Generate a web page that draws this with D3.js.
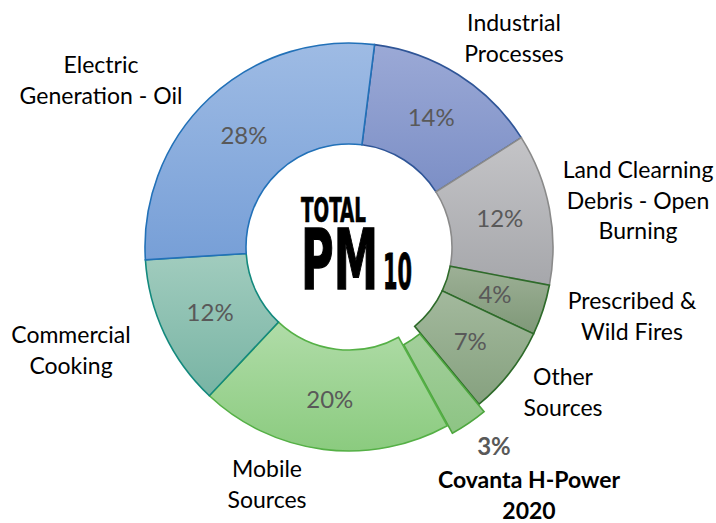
<!DOCTYPE html>
<html>
<head>
<meta charset="utf-8">
<script src="https://cdn.jsdelivr.net/npm/d3@7"></script>
<style>
  body { margin: 0; background: #fff; }
  text { font-family: Lato, "Open Sans", sans-serif; }
</style>
</head>
<body>
<svg id="chart" width="716" height="523"></svg>
<script>
// Data, clockwise from the top
const categories = ["Industrial Processes", "Land Clearning Debris - Open Burning", "Prescribed & Wild Fires",
    "Other Sources", "Covanta H-Power 2020", "Mobile Sources", "Commercial Cooking", "Electric Generation - Oil"];
const shares = [14, 12, 4, 7, 3, 20, 12, 28];
const labelLines = [
    ["Industrial", "Processes"],
    ["Land Clearning", "Debris - Open", "Burning"],
    ["Prescribed &", "Wild Fires"],
    ["Other", "Sources"],
    ["Covanta H-Power", "2020"],
    ["Mobile", "Sources"],
    ["Commercial", "Cooking"],
    ["Electric", "Generation - Oil"]
];
const highlighted = "Covanta H-Power 2020";

// Styles
const topColors = ["#9ba9d6", "#c4c4c7", "#9db096", "#a3b99d", "#a3cf9b", "#b0dca8", "#a1ccbe", "#9ebbe4"];
const bottomColors = ["#7c8fc6", "#a6a7ab", "#7f9878", "#86a17f", "#8dc484", "#8bcb7f", "#78b4a4", "#779fd7"];
const strokeColors = ["#2f5597", "#8a8a8a", "#2e6b2a", "#2e6b2a", "#4ea73f", "#55b046", "#13897d", "#2271b8"];

// Label anchors (first-line baseline)
const labelPos = [[514, 31], [638, 178], [632, 309], [563, 385], [529, 488], [267, 477], [71, 343], [101, 73]];

const dims = { width: 716, height: 523, cx: 349, cy: 247, inner: 103, outer: 204, explode: 9, lineH: 30.5 };
const startDeg = 7.2;

const svg = d3.select("#chart");
const defs = svg.append("defs");

shares.forEach((d, i) => {
    const g = defs.append("linearGradient")
        .attr("id", `grad${i}`)
        .attr("x1", 0).attr("y1", 0).attr("x2", 0).attr("y2", 1);
    g.append("stop").attr("offset", "0%").attr("stop-color", topColors[i]);
    g.append("stop").attr("offset", "100%").attr("stop-color", bottomColors[i]);
});

const start = startDeg * Math.PI / 180;
const pie = d3.pie().sort(null).value(d => d).startAngle(start).endAngle(start + 2 * Math.PI);
const arcs = pie(shares);

const arc = d3.arc().innerRadius(dims.inner).outerRadius(dims.outer);

const plot = svg.append("g").attr("transform", `translate(${dims.cx},${dims.cy})`);

// pull the highlighted slice out along its mid angle
function offset(d, i) {
    if (categories[i] !== highlighted) return [0, 0];
    const a = (d.startAngle + d.endAngle) / 2;
    return [Math.sin(a) * dims.explode, -Math.cos(a) * dims.explode];
}

plot.selectAll("path.slice")
    .data(arcs)
    .enter()
    .append("path")
    .attr("class", "slice")
    .attr("d", arc)
    .attr("transform", (d, i) => `translate(${offset(d, i)})`)
    .attr("fill", (d, i) => `url(#grad${i})`)
    .attr("stroke", (d, i) => strokeColors[i])
    .attr("stroke-width", 1.6)
    .attr("stroke-linejoin", "miter");

// Percent labels
plot.selectAll("text.pct")
    .data(arcs.filter((d, i) => categories[i] !== highlighted))
    .enter()
    .append("text")
    .attr("class", "pct")
    .attr("x", d => arc.centroid(d)[0])
    .attr("y", d => arc.centroid(d)[1])
    .attr("dy", "0.36em")
    .attr("text-anchor", "middle")
    .attr("fill", "#595959")
    .style("font-size", "24px")
    .text(d => d.data + "%");

// Category labels
labelLines.forEach((lines, i) => {
    const bold = categories[i] === highlighted;
    const t = svg.append("text")
        .attr("text-anchor", "middle")
        .attr("fill", "#000")
        .style("font-size", "23px")
        .style("font-weight", bold ? "bold" : "normal");
    lines.forEach((line, j) => {
        t.append("tspan")
            .attr("x", labelPos[i][0])
            .attr("y", labelPos[i][1] + j * dims.lineH)
            .text(line);
    });
    if (bold) {
        svg.append("text")
            .attr("x", 494)
            .attr("y", 455)
            .attr("text-anchor", "middle")
            .attr("fill", "#595959")
            .style("font-size", "24px")
            .style("font-weight", "bold")
            .text(shares[i] + "%");
    }
});

// Centre title
const title = svg.append("text")
    .style("font-family", "'DejaVu Sans Condensed', 'DejaVu Sans', sans-serif")
    .style("font-weight", "bold")
    .attr("fill", "#000")
    .attr("stroke", "#000")
    .attr("stroke-linejoin", "miter");
title.append("tspan")
    .attr("x", 301).attr("y", 222)
    .attr("textLength", 65).attr("lengthAdjust", "spacingAndGlyphs")
    .attr("stroke-width", 0.6)
    .style("font-size", "33px")
    .text("TOTAL");
title.append("tspan")
    .attr("x", 301).attr("y", 289)
    .attr("textLength", 77).attr("lengthAdjust", "spacingAndGlyphs")
    .attr("stroke-width", 1.4)
    .style("font-size", "84px")
    .text("PM");
title.append("tspan")
    .attr("x", 383).attr("y", 289)
    .attr("textLength", 29).attr("lengthAdjust", "spacingAndGlyphs")
    .attr("stroke-width", 0.9)
    .style("font-size", "50px")
    .text("10");
</script>
</body>
</html>
